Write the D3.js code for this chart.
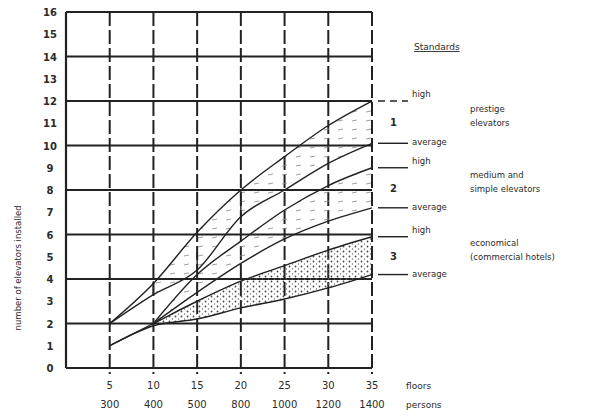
<!DOCTYPE html>
<html lang="en">
<head>
<meta charset="UTF-8">
<title>Number of elevators installed</title>
<script src="https://d3js.org/d3.v7.min.js"></script>
<style>
  body { margin: 0; background: #fff; }
  svg text { font-family: "DejaVu Sans", sans-serif; fill: #2b2b2b; }
  .grid { stroke: #222; stroke-width: 2.2px; }
  .vgrid { stroke: #222; stroke-width: 2px; stroke-dasharray: 14 4; }
  .curve { fill: none; stroke: #222; stroke-width: 1.4px; }
  .key { stroke: #222; stroke-width: 1.4px; }
</style>
</head>
<body>
<div id="chart"></div>
<script>
// x axis: floors and persons
const floors = [5, 10, 15, 20, 25, 30, 35];
const persons = ["300", "400", "500", "800", "1000", "1200", "1400"];
const yTicks = [0, 1, 2, 3, 4, 5, 6, 7, 8, 9, 10, 11, 12, 13, 14, 15, 16];
const gridLevels = [2, 4, 6, 8, 10, 12, 14, 16];

// number of elevators per standard (one value per floor, null = not drawn)
const high1 = [2.0, 3.8, 6.1, 8.0, 9.5, 10.9, 12.0];
const avg1  = [2.0, 3.3, 4.4, 6.8, 8.0, 9.2, 10.1];
const high2 = [null, 2.0, 4.2, 5.7, 7.1, 8.2, 9.0];
const avg2  = [null, 2.0, 3.4, 4.7, 5.8, 6.6, 7.2];
const high3 = [1.0, 2.0, 3.0, 3.9, 4.6, 5.3, 5.9];
const avg3  = [1.0, 1.9, 2.2, 2.7, 3.1, 3.6, 4.2];

// vertical steps seen on the upper curves
const stepFloors = [10, 15, 20];
const stepLow  = [3.3, 4.4, 6.8];
const stepHigh = [3.9, 5.2, 8.0];

const groupNames = ["1", "2", "3"];
const groupText = [
  ["prestige", "elevators"],
  ["medium and", "simple elevators"],
  ["economical", "(commercial hotels)"]
];

const W = 589, H = 420;
const svg = d3.select("#chart").append("svg")
  .attr("width", W).attr("height", H);

const x = d3.scaleLinear().domain([0, 35]).range([66, 372]);
const y = d3.scaleLinear().domain([0, 16]).range([368, 12]);

// stipple pattern for group 3
const defs = svg.append("defs");
const pat = defs.append("pattern").attr("id", "dots")
  .attr("width", 6).attr("height", 5).attr("patternUnits", "userSpaceOnUse");
pat.append("circle").attr("cx", 1.5).attr("cy", 1.5).attr("r", 0.9).attr("fill", "#444");
pat.append("circle").attr("cx", 4.5).attr("cy", 4).attr("r", 0.7).attr("fill", "#666");
const pat2 = defs.append("pattern").attr("id", "dash")
  .attr("width", 14).attr("height", 9).attr("patternUnits", "userSpaceOnUse");
pat2.append("line").attr("x1", 2).attr("y1", 4).attr("x2", 7).attr("y2", 3)
  .attr("stroke", "#888").attr("stroke-width", 0.8);

// horizontal grid
svg.append("g").selectAll("line").data(gridLevels).join("line")
  .attr("class", "grid")
  .attr("x1", x(0)).attr("x2", x(35))
  .attr("y1", d => y(d)).attr("y2", d => y(d));
svg.append("line").attr("class", "grid")
  .attr("x1", x(0)).attr("x2", x(35)).attr("y1", y(0)).attr("y2", y(0));
svg.append("line").attr("class", "grid")
  .attr("x1", x(0)).attr("x2", x(0)).attr("y1", y(0)).attr("y2", y(16));

// vertical grid (dashed)
svg.append("g").selectAll("line").data(floors).join("line")
  .attr("class", "vgrid")
  .attr("x1", d => x(d)).attr("x2", d => x(d))
  .attr("y1", y(16)).attr("y2", y(0) + 6);

// shaded bands
const band = (lo, hi, fill) => {
  const rows = floors.map((f, i) => ({ f, lo: lo[i], hi: hi[i] }));
  svg.append("path")
    .datum(rows.filter(r => r.f >= 10))
    .attr("fill", fill)
    .attr("d", d3.area().curve(d3.curveMonotoneX)
      .x(d => x(d.f)).y0(d => y(d.lo)).y1(d => y(d.hi)));
};
band(avg3, high3, "url(#dots)");
band(avg2, high2, "url(#dash)");
band(avg1, high1, "url(#dash)");

// curves
const series = [high1, avg1, high2, avg2, high3, avg3];
const line = d3.line()
  .defined(d => d.v !== null)
  .curve(d3.curveMonotoneX)
  .x(d => x(d.f)).y(d => y(d.v));
svg.append("g").selectAll("path").data(series).join("path")
  .attr("class", "curve")
  .attr("d", s => line(floors.map((f, i) => ({ f, v: s[i] }))));

// steps
svg.append("g").selectAll("line").data(stepFloors).join("line")
  .attr("class", "curve")
  .attr("x1", d => x(d)).attr("x2", d => x(d))
  .attr("y1", (d, i) => y(stepLow[i])).attr("y2", (d, i) => y(stepHigh[i]));

// y labels
svg.append("g").selectAll("text").data(yTicks).join("text")
  .attr("x", 50).attr("y", d => y(d) + 4)
  .attr("text-anchor", "middle")
  .attr("font-size", 10).attr("font-weight", "bold")
  .text(d => d);

svg.append("text")
  .attr("transform", `translate(21,${y(4.5)}) rotate(-90)`)
  .attr("text-anchor", "middle")
  .attr("font-size", 8.5)
  .text("number of elevators installed");

// x labels
svg.append("g").selectAll("text").data(floors).join("text")
  .attr("x", d => x(d)).attr("y", 389)
  .attr("text-anchor", "middle").attr("font-size", 10)
  .text(d => d);
svg.append("g").selectAll("text").data(persons).join("text")
  .attr("x", (d, i) => x(floors[i])).attr("y", 408)
  .attr("text-anchor", "middle").attr("font-size", 10)
  .text(d => d);
svg.append("text").attr("x", 406).attr("y", 389).attr("font-size", 9).text("floors");
svg.append("text").attr("x", 406).attr("y", 408).attr("font-size", 9).text("persons");

// key on the right
const last = floors.length - 1;
const keyRows = series.map((s, i) => ({ v: s[last], label: i % 2 === 0 ? "high" : "average", dashed: i === 0 }));
svg.append("g").selectAll("line").data(keyRows).join("line")
  .attr("class", "key")
  .attr("stroke-dasharray", d => d.dashed ? "7 5" : null)
  .attr("x1", x(35) + 6).attr("x2", x(35) + 36)
  .attr("y1", d => y(d.v)).attr("y2", d => y(d.v));
svg.append("g").selectAll("text").data(keyRows).join("text")
  .attr("x", x(35) + 40).attr("y", (d, i) => y(d.v) + (i % 2 === 0 ? -4 : 2))
  .attr("font-size", 8.5)
  .text(d => d.label);

svg.append("text").attr("x", 414).attr("y", 50)
  .attr("font-size", 9).attr("text-decoration", "underline").text("Standards");

groupNames.forEach((g, i) => {
  const mid = (series[2 * i][last] + series[2 * i + 1][last]) / 2;
  svg.append("text").attr("x", x(35) + 18).attr("y", y(mid) + 4)
    .attr("font-size", 10).attr("font-weight", "bold").text(g);
  groupText[i].forEach((t, j) => {
    svg.append("text").attr("x", 470).attr("y", y(mid) - 10 + j * 14)
      .attr("font-size", 8.5).text(t);
  });
});
</script>
</body>
</html>
